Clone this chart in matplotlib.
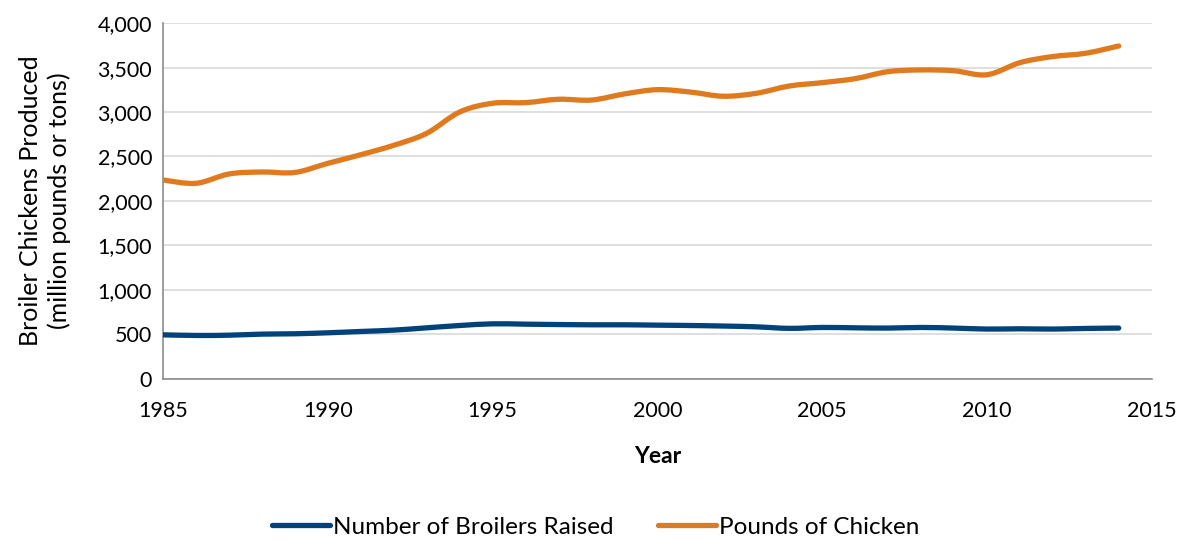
import numpy as np
import matplotlib.pyplot as plt
from matplotlib.path import Path
from matplotlib.patches import PathPatch
from matplotlib.lines import Line2D
from matplotlib.ticker import FuncFormatter

plt.rcParams['font.family'] = ['Lato', 'DejaVu Sans']

years = list(range(1985, 2015))
broilers = [492, 485, 488, 500, 504, 515, 530, 545, 571, 597,
            616, 612, 608, 605, 605, 601, 597, 591, 582, 565,
            575, 571, 568, 575, 568, 557, 560, 557, 564, 568]
pounds = [2235, 2198, 2303, 2325, 2320, 2423, 2520, 2626, 2761, 3001,
          3099, 3106, 3144, 3135, 3204, 3252, 3225, 3178, 3211, 3293,
          3331, 3376, 3455, 3474, 3465, 3420, 3556, 3625, 3662, 3744]

blue = '#00427A'
orange = '#E07A1F'


def smooth_path(x, y):
    # Catmull-Rom style bezier, like Excel's smoothed line
    x = np.asarray(x, float)
    y = np.asarray(y, float)
    verts = [(x[0], y[0])]
    codes = [Path.MOVETO]
    n = len(x)
    for i in range(n - 1):
        p0 = (x[max(i - 1, 0)], y[max(i - 1, 0)])
        p1 = (x[i], y[i])
        p2 = (x[i + 1], y[i + 1])
        p3 = (x[min(i + 2, n - 1)], y[min(i + 2, n - 1)])
        c1 = (p1[0] + (p2[0] - p0[0]) / 6, p1[1] + (p2[1] - p0[1]) / 6)
        c2 = (p2[0] - (p3[0] - p1[0]) / 6, p2[1] - (p3[1] - p1[1]) / 6)
        verts += [c1, c2, p2]
        codes += [Path.CURVE4] * 3
    return Path(verts, codes)


fig = plt.figure(figsize=(11.91, 5.40), dpi=100)
ax = fig.add_axes([0.137, 0.299, 0.830, 0.658])

for series, col in [(broilers, blue), (pounds, orange)]:
    patch = PathPatch(smooth_path(years, series), facecolor='none',
                      edgecolor=col, lw=3.8, capstyle='round',
                      joinstyle='round', zorder=3)
    ax.add_patch(patch)

ax.set_xlim(1985, 2015)
ax.set_ylim(0, 4000)
ax.set_xticks(range(1985, 2016, 5))
ax.set_yticks(range(0, 4001, 500))
ax.yaxis.set_major_formatter(FuncFormatter(lambda v, p: f'{int(v):,}'))
ax.tick_params(length=0, labelsize=15.5, colors='#000000')
ax.tick_params(axis='y', pad=8)
ax.tick_params(axis='x', pad=16)
ax.grid(axis='y', color='#d9d9d9', lw=1.2)
ax.set_axisbelow(True)
for s in ['top', 'right']:
    ax.spines[s].set_visible(False)
for s in ['left', 'bottom']:
    ax.spines[s].set_color('#8c8c8c')
    ax.spines[s].set_linewidth(1.2)

ax.set_xlabel('Year', fontsize=16.5, fontweight='bold', labelpad=18)
ax.set_ylabel('Broiler Chickens Produced\n(million pounds or tons)',
              fontsize=18, labelpad=19, linespacing=1.3)

handles = [Line2D([], [], color=blue, lw=3.8, solid_capstyle='round'),
           Line2D([], [], color=orange, lw=3.8, solid_capstyle='round')]
fig.legend(handles, ['Number of Broilers Raised', 'Pounds of Chicken'],
           loc='center', bbox_to_anchor=(0.5, 0.024), ncol=2, frameon=False,
           fontsize=17.5, handlelength=2.4, handletextpad=0.1,
           columnspacing=1.85)

fig.savefig('out.png', dpi=100)
